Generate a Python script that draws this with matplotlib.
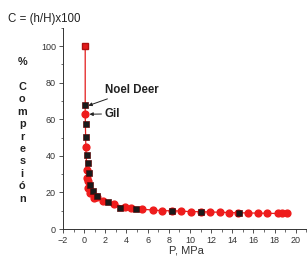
import matplotlib.pyplot as plt
from matplotlib.ticker import MultipleLocator

plt.rcParams['font.family'] = ['Liberation Sans', 'DejaVu Sans']

# Gil (red circles)
gil_p = [0.1, 0.1, 0.16, 0.25, 0.25, 0.4, 0.4, 0.57, 0.9, 1.2, 1.8, 2.85, 3.9, 4.4,
         5.5, 6.5, 7.4, 8.3, 9.2, 10.1, 11.0, 11.9, 12.8, 13.7, 14.5, 15.5, 16.4,
         17.3, 18.3, 18.7, 19.2]
gil_c = [100, 62.8, 44.8, 32.3, 27.8, 26, 22.3, 19.5, 16.8, 17.4, 15.5, 13.7, 11.9, 11.3,
         10.8, 10.4, 10.0, 10.0, 9.8, 9.5, 9.5, 9.3, 9.2, 9.0, 8.9, 8.8, 8.7,
         8.6, 8.5, 8.5, 8.5]

# Noel Deer (black squares)
nd_p = [0.1, 0.16, 0.16, 0.25, 0.35, 0.47, 0.6, 0.8, 1.2, 2.3, 3.4, 4.9, 8.3, 11.0, 14.6]
nd_c = [68, 57.5, 50.6, 40.5, 36, 30.5, 24, 21, 18, 14.6, 11.5, 10.8, 10.0, 9.5, 8.8]

fig = plt.figure(figsize=(3.08, 2.66), dpi=100)
ax = fig.add_axes([0.2045, 0.139, 0.79, 0.756])

ax.plot(gil_p, gil_c, color='#e31b1b', lw=0.9, zorder=1)
ax.plot(nd_p, nd_c, ls='none', marker='s', ms=3.8, mfc='#1a1a1a', mec='#5a0a0a', mew=0.5, zorder=3)
ax.plot(gil_p[1:], gil_c[1:], ls='none', marker='o', ms=4.9, mfc='#ee1c1c', mec='#ee1c1c', zorder=2)
ax.plot(gil_p[:1], gil_c[:1], ls='none', marker='s', ms=4.8, mfc='#e31b1b', mec='#b01010', zorder=2)

ax.annotate('Noel Deer', xy=(nd_p[0] + 0.3, nd_c[0] - 0.5), xytext=(2.0, 76),
            fontsize=8.3, fontweight='bold', va='center', color='#222222',
            arrowprops=dict(arrowstyle='-|>', color='#222222', lw=0.7, mutation_scale=5,
                            shrinkA=0, shrinkB=0))
ax.annotate('Gil', xy=(gil_p[1] + 0.4, gil_c[1]), xytext=(1.9, 63),
            fontsize=8.3, fontweight='bold', va='center', color='#222222',
            arrowprops=dict(arrowstyle='-|>', color='#222222', lw=0.7, mutation_scale=5,
                            shrinkA=0, shrinkB=0))

ax.set_xlim(-2, 21)
ax.set_ylim(0, 110)
ax.xaxis.set_major_locator(MultipleLocator(2))
ax.xaxis.set_minor_locator(MultipleLocator(1))
ax.yaxis.set_minor_locator(MultipleLocator(10))
ax.set_yticks([0, 20, 40, 60, 80, 100])
ax.spines['top'].set_visible(False)
ax.spines['right'].set_visible(False)
for s in ('left', 'bottom'):
    ax.spines[s].set_linewidth(0.7)
    ax.spines[s].set_color('#333333')
ax.tick_params(which='major', length=3, width=0.6, labelsize=6.5, colors='#333333', pad=2)
ax.tick_params(which='minor', length=1.8, width=0.5, colors='#333333')

fig.text(0.55, 0.06, 'P, MPa', fontsize=8, color='#333333', va='center')
fig.text(0.025, 0.93, 'C = (h/H)x100', fontsize=8.3, color='#222222', va='center')
fig.text(0.072, 0.785, '%\n\nC\no\nm\np\nr\ne\ns\ni\nó\nn', fontsize=7.8, fontweight='bold',
         ha='center', va='top', linespacing=1.3, color='#222222')

fig.savefig('out.png', dpi=100)
